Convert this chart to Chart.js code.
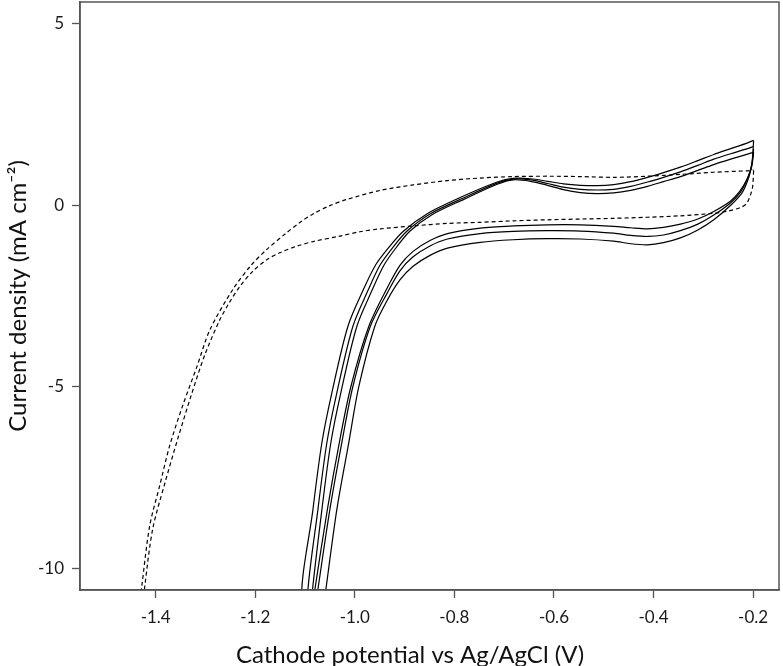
<!DOCTYPE html>
<html>
<head>
<meta charset="utf-8">
<script src="https://cdn.jsdelivr.net/npm/chart.js@4/dist/chart.umd.min.js"></script>
<style>
  html, body { margin: 0; padding: 0; background: #ffffff; }
</style>
</head>
<body>
<canvas id="cv" width="783" height="666"></canvas>
<script>
// axis ticks
const X_TICKS = [-1.4, -1.2, -1.0, -0.8, -0.6, -0.4, -0.2];
const Y_TICKS = [-10, -5, 0, 5];

// dashed CV loop: cathodic sweep then anodic return, [V, mA cm-2]
const dashedDown = [
    [-0.199, 0.95], [-0.201, 0.51], [-0.205, 0.30], [-0.213, 0.05], [-0.225, -0.06],
    [-0.250, -0.16], [-0.279, -0.22], [-0.346, -0.29], [-0.412, -0.33], [-0.480, -0.36],
    [-0.547, -0.38], [-0.613, -0.40], [-0.682, -0.43], [-0.748, -0.47], [-0.814, -0.50],
    [-0.883, -0.57], [-0.949, -0.65], [-0.990, -0.73], [-1.030, -0.85], [-1.084, -1.00],
    [-1.115, -1.12], [-1.151, -1.31], [-1.177, -1.50], [-1.205, -1.82], [-1.231, -2.24],
    [-1.252, -2.68], [-1.271, -3.15], [-1.301, -4.11], [-1.328, -5.21], [-1.356, -6.45],
    [-1.382, -7.68], [-1.406, -8.92], [-1.422, -10.51], [-1.425, -11.0],
];
const dashedUp = [
    [-1.432, -11.0], [-1.428, -10.51], [-1.412, -8.83], [-1.392, -7.73], [-1.372, -6.63],
    [-1.346, -5.53], [-1.317, -4.44], [-1.291, -3.43], [-1.245, -2.32], [-1.210, -1.68],
    [-1.177, -1.22], [-1.140, -0.79], [-1.110, -0.47], [-1.084, -0.24], [-1.050, -0.01],
    [-1.016, 0.16], [-0.949, 0.41], [-0.883, 0.56], [-0.814, 0.68], [-0.748, 0.75],
    [-0.682, 0.79], [-0.613, 0.80], [-0.547, 0.79], [-0.480, 0.77], [-0.412, 0.80],
    [-0.346, 0.85], [-0.279, 0.91], [-0.211, 0.95], [-0.199, 0.97],
];

// solid CV cycles
const cycle1Down = [
    [-0.199, 1.78], [-0.202, 1.20], [-0.208, 0.80], [-0.222, 0.35], [-0.245, 0.00],
    [-0.279, -0.40], [-0.311, -0.68], [-0.346, -0.90], [-0.380, -1.03], [-0.412, -1.09],
    [-0.446, -1.06], [-0.480, -0.99], [-0.547, -0.93], [-0.613, -0.92], [-0.682, -0.95],
    [-0.748, -1.02], [-0.814, -1.18], [-0.849, -1.38], [-0.883, -1.68], [-0.909, -2.05],
    [-0.935, -2.62], [-0.960, -3.34], [-0.992, -5.00], [-1.012, -6.53], [-1.036, -8.37],
    [-1.058, -10.57], [-1.062, -11.0],
];
const cycle1Up = [
    [-1.106, -11.0], [-1.084, -8.37], [-1.066, -6.53], [-1.046, -5.16], [-1.014, -3.34],
    [-0.983, -2.33], [-0.958, -1.64], [-0.931, -1.15], [-0.902, -0.71], [-0.853, -0.22],
    [-0.784, 0.24], [-0.714, 0.64], [-0.682, 0.74], [-0.647, 0.73], [-0.613, 0.66],
    [-0.581, 0.59], [-0.547, 0.55], [-0.513, 0.54], [-0.480, 0.57], [-0.446, 0.65],
    [-0.412, 0.77], [-0.380, 0.90], [-0.346, 1.05], [-0.311, 1.23], [-0.279, 1.40],
    [-0.245, 1.56], [-0.211, 1.72], [-0.199, 1.79],
];
const cycle2Down = [
    [-0.199, 1.55], [-0.203, 1.10], [-0.211, 0.75], [-0.225, 0.37], [-0.245, 0.07],
    [-0.279, -0.27], [-0.311, -0.52], [-0.346, -0.70], [-0.380, -0.82], [-0.412, -0.86],
    [-0.446, -0.83], [-0.480, -0.77], [-0.547, -0.71], [-0.613, -0.70], [-0.682, -0.72],
    [-0.748, -0.78], [-0.814, -0.93], [-0.849, -1.12], [-0.883, -1.42], [-0.909, -1.80],
    [-0.935, -2.42], [-0.969, -3.34], [-1.004, -5.00], [-1.026, -6.53], [-1.050, -8.37],
    [-1.074, -10.57], [-1.078, -11.0],
];
const cycle2Up = [
    [-1.096, -11.0], [-1.074, -8.37], [-1.056, -6.53], [-1.036, -5.16], [-1.004, -3.34],
    [-0.973, -2.33], [-0.949, -1.64], [-0.923, -1.15], [-0.895, -0.71], [-0.849, -0.24],
    [-0.782, 0.20], [-0.714, 0.61], [-0.682, 0.72], [-0.647, 0.70], [-0.613, 0.60],
    [-0.581, 0.50], [-0.547, 0.44], [-0.513, 0.42], [-0.480, 0.44], [-0.446, 0.52],
    [-0.412, 0.64], [-0.380, 0.77], [-0.346, 0.92], [-0.311, 1.10], [-0.279, 1.27],
    [-0.245, 1.42], [-0.211, 1.56], [-0.199, 1.62],
];
const cycle3Down = [
    [-0.199, 1.46], [-0.203, 1.05], [-0.212, 0.72], [-0.227, 0.38], [-0.245, 0.12],
    [-0.279, -0.17], [-0.311, -0.38], [-0.346, -0.52], [-0.380, -0.61], [-0.412, -0.65],
    [-0.446, -0.62], [-0.480, -0.58], [-0.547, -0.54], [-0.613, -0.54], [-0.682, -0.57],
    [-0.748, -0.63], [-0.814, -0.78], [-0.849, -0.97], [-0.883, -1.27], [-0.909, -1.65],
    [-0.935, -2.28], [-0.972, -3.34], [-1.008, -5.00], [-1.031, -6.53], [-1.055, -8.37],
    [-1.080, -10.57], [-1.084, -11.0],
];
const cycle3Up = [
    [-1.088, -11.0], [-1.066, -8.37], [-1.048, -6.53], [-1.028, -5.16], [-0.996, -3.34],
    [-0.965, -2.33], [-0.941, -1.64], [-0.916, -1.15], [-0.889, -0.71], [-0.845, -0.26],
    [-0.780, 0.17], [-0.714, 0.58], [-0.682, 0.70], [-0.647, 0.66], [-0.613, 0.55],
    [-0.581, 0.43], [-0.547, 0.35], [-0.513, 0.32], [-0.480, 0.34], [-0.446, 0.41],
    [-0.412, 0.52], [-0.380, 0.65], [-0.346, 0.79], [-0.311, 0.96], [-0.279, 1.12],
    [-0.245, 1.27], [-0.211, 1.41], [-0.199, 1.46],
];

const X_TITLE = 'Cathode potential vs Ag/AgCl (V)';
const Y_TITLE = 'Current density (mA cm\u207B\u00B2)';

const FONT = "Lato, 'Open Sans', sans-serif";
const AXIS_COLOR = '#555555';

const toPts = (...parts) => parts.flat().map(([x, y]) => ({ x, y }));

function loop(down, up, dashed) {
    return {
        data: toPts(down, up),
        showLine: true,
        borderColor: '#000000',
        borderWidth: 1.2,
        borderDash: dashed ? [4, 3] : [],
        pointRadius: 0,
        tension: 0.3,
        fill: false,
    };
}

// box round the plot + axis titles
const framePlugin = {
    id: 'frame',
    afterDraw(chart) {
        const { ctx, chartArea: a } = chart;
        ctx.save();
        ctx.strokeStyle = AXIS_COLOR;
        ctx.lineWidth = 1.5;
        ctx.strokeRect(a.left, a.top, a.right - a.left, a.bottom - a.top);

        ctx.fillStyle = '#111111';
        ctx.font = `24px ${FONT}`;
        ctx.textAlign = 'center';
        ctx.textBaseline = 'middle';
        ctx.fillText(X_TITLE, 410, 655);

        ctx.translate(18, (a.top + a.bottom) / 2);
        ctx.rotate(-Math.PI / 2);
        ctx.fillText(Y_TITLE, 0, 0);
        ctx.restore();
    },
};

const tickStyle = {
    drawOnChartArea: false,
    drawTicks: true,
    tickLength: 8,
    tickColor: AXIS_COLOR,
    tickWidth: 1.3,
};

new Chart(document.getElementById('cv'), {
    type: 'scatter',
    data: {
        datasets: [
            loop(dashedDown, dashedUp, true),
            loop(cycle1Down, cycle1Up, false),
            loop(cycle2Down, cycle2Up, false),
            loop(cycle3Down, cycle3Up, false),
        ],
    },
    options: {
        responsive: false,
        animation: false,
        layout: { padding: { top: 2, right: 4, left: 0, bottom: 0 } },
        plugins: {
            legend: { display: false },
            tooltip: { enabled: false },
        },
        scales: {
            x: {
                type: 'linear',
                min: -1.552,
                max: -0.148,
                afterBuildTicks: (s) => { s.ticks = X_TICKS.map((value) => ({ value })); },
                afterFit: (s) => { s.height = 76; s.paddingLeft = 0; s.paddingRight = 0; },
                ticks: {
                    callback: (v) => v.toFixed(1),
                    font: { family: FONT, size: 17 },
                    color: '#1a1a1a',
                    padding: 9,
                    maxRotation: 0,
                },
                grid: tickStyle,
                border: { display: true, color: AXIS_COLOR, width: 1.5 },
            },
            y: {
                type: 'linear',
                min: -10.6,
                max: 5.6,
                afterBuildTicks: (s) => { s.ticks = Y_TICKS.map((value) => ({ value })); },
                afterFit: (s) => { s.width = 80; s.paddingTop = 0; s.paddingBottom = 0; },
                ticks: {
                    callback: (v) => String(v),
                    font: { family: FONT, size: 17 },
                    color: '#1a1a1a',
                    padding: 8,
                },
                grid: tickStyle,
                border: { display: true, color: AXIS_COLOR, width: 1.5 },
            },
        },
    },
    plugins: [framePlugin],
});
</script>
</body>
</html>
